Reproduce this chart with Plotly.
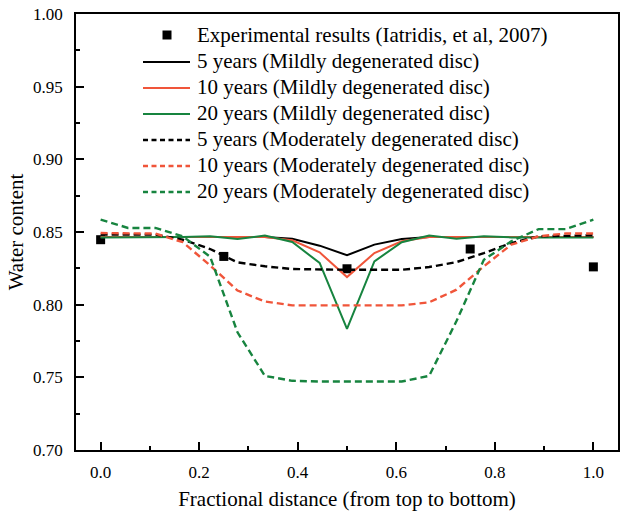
import plotly.graph_objects as go

# Node positions (fractional distance), 19 nodes at k/18
x_nodes = [k / 18 for k in range(19)]

exp_x = [0.0, 0.25, 0.5, 0.75, 1.0]
exp_y = [0.8447, 0.8332, 0.8247, 0.8383, 0.826]

mild_5 = [0.8466, 0.8466, 0.8466, 0.8466, 0.8466, 0.8466, 0.8466, 0.8454, 0.8406, 0.834,
          0.8413, 0.8452, 0.8466, 0.8466, 0.8466, 0.8466, 0.8466, 0.8466, 0.8466]
mild_10 = [0.8466, 0.8466, 0.8466, 0.8466, 0.8466, 0.8466, 0.8466, 0.8443, 0.836, 0.819,
           0.8355, 0.8436, 0.8466, 0.8466, 0.8466, 0.8466, 0.8466, 0.8466, 0.8466]
mild_20 = [0.8463, 0.8463, 0.8463, 0.8466, 0.847, 0.8452, 0.8475, 0.8431, 0.8287, 0.7834,
           0.8298, 0.843, 0.8475, 0.8454, 0.847, 0.8463, 0.8463, 0.8463, 0.8463]
mod_5 = [0.8482, 0.8482, 0.8482, 0.8447, 0.8383, 0.8291, 0.8264, 0.8245, 0.824, 0.824,
         0.824, 0.824, 0.8259, 0.8293, 0.8355, 0.8424, 0.847, 0.8475, 0.8478]
mod_10 = [0.8493, 0.8493, 0.8489, 0.843, 0.827, 0.8097, 0.8022, 0.7995, 0.7995, 0.7995,
          0.7995, 0.7995, 0.8016, 0.8103, 0.8264, 0.8413, 0.847, 0.849, 0.849]
mod_20 = [0.8585, 0.8528, 0.8528, 0.847, 0.833, 0.781, 0.751, 0.7476, 0.7471, 0.7471,
          0.7471, 0.7471, 0.751, 0.7887, 0.8309, 0.8436, 0.852, 0.852, 0.8585]

exp_name = "Experimental results (Iatridis, et al, 2007)"
names = ["5 years (Mildly degenerated disc)",
         "10 years (Mildly degenerated disc)",
         "20 years (Mildly degenerated disc)",
         "5 years (Moderately degenerated disc)",
         "10 years (Moderately degenerated disc)",
         "20 years (Moderately degenerated disc)"]

x_tick_vals = [0.0, 0.2, 0.4, 0.6, 0.8, 1.0]
x_tick_text = ["0.0", "0.2", "0.4", "0.6", "0.8", "1.0"]
y_tick_vals = [0.70, 0.75, 0.80, 0.85, 0.90, 0.95, 1.00]
y_tick_text = ["0.70", "0.75", "0.80", "0.85", "0.90", "0.95", "1.00"]

BLACK = "#000000"
RED = "#F0553A"
GREEN = "#17843F"
DASH = "7px,4px"
FONT = "Liberation Serif"

W, H = 629, 519
ML, MR, MT, MB = 76, 11, 14, 69
PW, PH = W - ML - MR, H - MT - MB


def sx(px):  # pixel x -> paper
    return (px - ML) / PW


def sy(py):  # pixel y -> paper
    return 1 - (py - MT) / PH


fig = go.Figure()
fig.add_trace(go.Scatter(x=exp_x, y=exp_y, mode="markers", name=exp_name,
                         marker=dict(symbol="square", size=9, color=BLACK,
                                     line=dict(width=0))))
series = [mild_5, mild_10, mild_20, mod_5, mod_10, mod_20]
colors = [BLACK, RED, GREEN, BLACK, RED, GREEN]
dashes = ["solid", "solid", "solid", DASH, DASH, DASH]
widths = [2, 2, 2, 2.4, 2.4, 2.4]
for s, n, c, d, w in zip(series, names, colors, dashes, widths):
    fig.add_trace(go.Scatter(x=x_nodes, y=s, mode="lines", name=n,
                             line=dict(color=c, width=w, dash=d)))

# Legend drawn as annotations + paper shapes (to match the compact row spacing)
shapes = []
annotations = []
row0, row_gap = 35, 26
sym_x0, sym_x1, text_x = 143, 190, 195
legend_labels = [exp_name] + names
for i, label in enumerate(legend_labels):
    yc = row0 + row_gap * i
    annotations.append(dict(x=sx(text_x), y=sy(yc), xref="paper", yref="paper",
                            text=label, showarrow=False, xanchor="left", yanchor="middle",
                            font=dict(family=FONT, size=21, color="black")))
    if i == 0:
        shapes.append(dict(type="rect", xref="paper", yref="paper",
                           x0=sx(162.5), x1=sx(171.5),
                           y0=sy(yc - 4.5), y1=sy(yc + 4.5),
                           fillcolor=BLACK, line=dict(width=0)))
    else:
        j = i - 1
        shapes.append(dict(type="line", xref="paper", yref="paper",
                           x0=sx(sym_x0), x1=sx(sym_x1),
                           y0=sy(yc + 1), y1=sy(yc + 1),
                           line=dict(color=colors[j], width=widths[j],
                                     dash="solid" if dashes[j] == "solid" else "5px,3.5px")))

fig.update_layout(
    width=W, height=H,
    margin=dict(l=ML, r=MR, t=MT, b=MB, autoexpand=False),
    paper_bgcolor="white", plot_bgcolor="white",
    font=dict(family=FONT, size=17, color="black"),
    showlegend=False,
    shapes=shapes, annotations=annotations,
    xaxis=dict(range=[-0.05, 1.05], tickmode="array",
               tickvals=x_tick_vals, ticktext=x_tick_text,
               ticks="inside", ticklen=8, tickwidth=1.5, tickcolor="black",
               ticklabelstandoff=6, ticklabeloverflow="allow",
               showline=True, linewidth=1.5, linecolor="black", mirror=True,
               showgrid=False, zeroline=False,
               minor=dict(tickvals=[0.1, 0.3, 0.5, 0.7, 0.9], ticks="inside",
                          ticklen=4, tickwidth=1.5, tickcolor="black"),
               title=dict(text="Fractional distance (from top to bottom)",
                          font=dict(size=21), standoff=10)),
    yaxis=dict(range=[0.70, 1.00], tickmode="array",
               tickvals=y_tick_vals, ticktext=y_tick_text,
               ticks="inside", ticklen=8, tickwidth=1.5, tickcolor="black",
               ticklabelstandoff=8, ticklabeloverflow="allow",
               showline=True, linewidth=1.5, linecolor="black", mirror=True,
               showgrid=False, zeroline=False,
               minor=dict(tickvals=[0.725, 0.775, 0.825, 0.875, 0.925, 0.975],
                          ticks="inside", ticklen=4, tickwidth=1.5, tickcolor="black"),
               title=dict(text="Water content", font=dict(size=21), standoff=4)),
)

# Remove the browser's default 8px page margin so the figure fills the window exactly
fig.write_html("out.html",
               config={"displayModeBar": False},
               post_script="document.body.style.margin='0';document.body.style.overflow='hidden';")
